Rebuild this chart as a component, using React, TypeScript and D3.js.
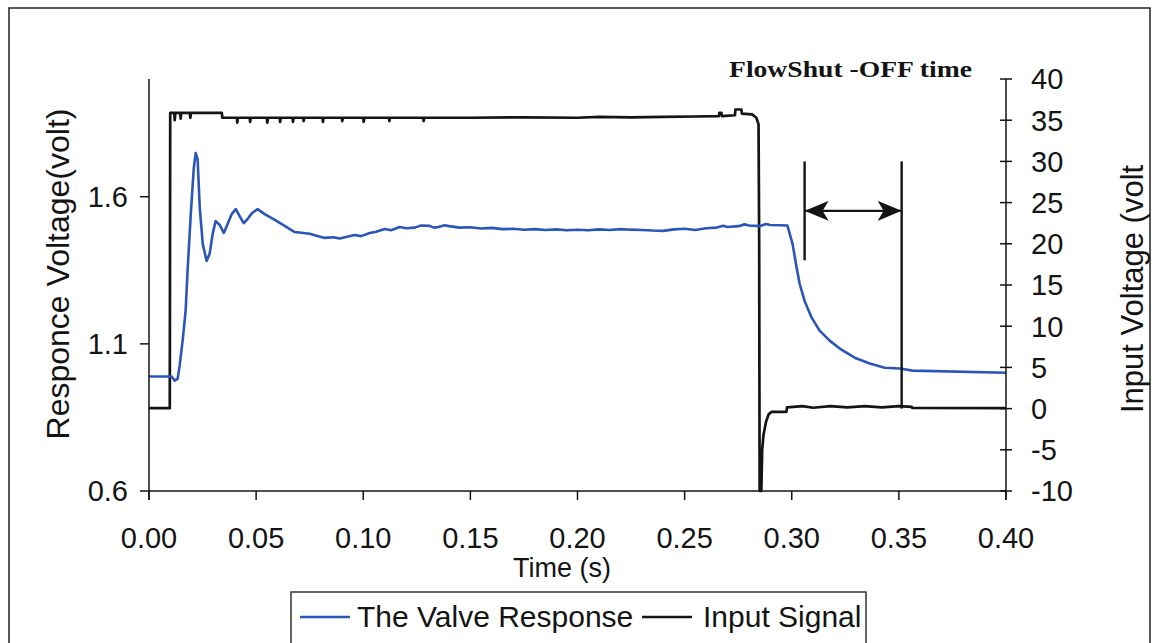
import React from "react";
import * as d3 from "d3";

// Valve step test: response voltage (left axis) and input signal (right axis)
const xTicks = [0, 0.05, 0.1, 0.15, 0.2, 0.25, 0.3, 0.35, 0.4];
const leftTicks = [0.6, 1.1, 1.6];
const rightTicks = [-10, -5, 0, 5, 10, 15, 20, 25, 30, 35, 40];

// [time (s), response voltage (V)]
const valveResponse: [number, number][] = [
  [0, 0.989], [0.0106, 0.989], [0.012, 0.975], [0.0134, 0.982], [0.0143, 1.026],
  [0.0157, 1.111], [0.0171, 1.213], [0.018, 1.348], [0.0195, 1.541], [0.0209, 1.697],
  [0.0218, 1.748], [0.0227, 1.727], [0.0237, 1.561], [0.0251, 1.439], [0.0269, 1.382],
  [0.0283, 1.406], [0.0297, 1.473], [0.0311, 1.517], [0.033, 1.504], [0.0349, 1.477],
  [0.0367, 1.507], [0.0386, 1.541], [0.0405, 1.558], [0.0423, 1.534], [0.0442, 1.51],
  [0.046, 1.524], [0.048, 1.544], [0.0507, 1.558], [0.054, 1.541], [0.0587, 1.521],
  [0.0633, 1.501], [0.068, 1.48], [0.075, 1.474], [0.079, 1.466], [0.082, 1.46],
  [0.086, 1.462], [0.089, 1.458], [0.092, 1.463], [0.096, 1.47], [0.099, 1.466],
  [0.103, 1.477], [0.106, 1.481], [0.11, 1.49], [0.113, 1.486], [0.117, 1.497],
  [0.12, 1.493], [0.124, 1.495], [0.127, 1.502], [0.131, 1.501], [0.133, 1.495],
  [0.135, 1.497], [0.138, 1.503], [0.14, 1.5], [0.145, 1.495], [0.15, 1.496],
  [0.155, 1.492], [0.16, 1.494], [0.165, 1.49], [0.17, 1.491], [0.175, 1.488],
  [0.18, 1.49], [0.185, 1.487], [0.19, 1.489], [0.195, 1.486], [0.2, 1.488],
  [0.205, 1.486], [0.21, 1.489], [0.215, 1.487], [0.22, 1.49], [0.225, 1.488],
  [0.23, 1.487], [0.235, 1.485], [0.24, 1.484], [0.245, 1.489], [0.25, 1.491],
  [0.255, 1.487], [0.26, 1.493], [0.265, 1.495], [0.268, 1.501], [0.27, 1.497],
  [0.275, 1.5], [0.278, 1.506], [0.28, 1.502], [0.285, 1.5], [0.288, 1.507],
  [0.29, 1.504], [0.295, 1.503], [0.298, 1.502],
  [0.3004, 1.439], [0.3023, 1.358], [0.3037, 1.304], [0.306, 1.246], [0.3093, 1.189],
  [0.313, 1.145], [0.3177, 1.111], [0.3224, 1.084], [0.3294, 1.053], [0.3364, 1.033],
  [0.3434, 1.019], [0.3504, 1.016], [0.3564, 1.009], [0.4, 1.002],
];

// [time (s), input voltage (V)]
const inputSignal: [number, number][] = [
  [0, 0.05], [0.0097, 0.05], [0.0099, 35.9], [0.0118, 35.9], [0.012, 35.0], [0.0123, 35.9],
  [0.0145, 35.9], [0.0148, 35.2], [0.015, 35.9], [0.019, 35.9], [0.0193, 35.3], [0.0196, 35.9],
  [0.034, 35.9], [0.0342, 35.3], [0.041, 35.3], [0.0412, 34.7], [0.0415, 35.3],
  [0.047, 35.3], [0.0472, 34.8], [0.0475, 35.3], [0.055, 35.3], [0.0552, 34.7], [0.0556, 35.3],
  [0.061, 35.3], [0.0612, 34.8], [0.0615, 35.3], [0.067, 35.3], [0.0672, 34.8], [0.0676, 35.3],
  [0.072, 35.3], [0.0722, 34.9], [0.0725, 35.3], [0.081, 35.3], [0.0812, 34.8], [0.0815, 35.3],
  [0.09, 35.3], [0.0902, 34.9], [0.0905, 35.3], [0.1, 35.3], [0.1002, 34.8], [0.1006, 35.3],
  [0.112, 35.3], [0.1122, 34.9], [0.1125, 35.3], [0.128, 35.3], [0.1282, 34.9], [0.1285, 35.3],
  [0.15, 35.3], [0.175, 35.35], [0.2, 35.3], [0.21, 35.4], [0.225, 35.35], [0.24, 35.4],
  [0.255, 35.45], [0.266, 35.5], [0.2662, 35.9], [0.2672, 35.9], [0.2674, 35.5],
  [0.2735, 35.6], [0.2737, 36.3], [0.2765, 36.3], [0.2767, 35.8], [0.2815, 35.7],
  [0.2835, 35.3], [0.2845, 34.5], [0.2848, 20], [0.285, -10], [0.2858, -10],
  [0.2862, -5], [0.2868, -3.2], [0.288, -1.6], [0.2892, -0.7], [0.2905, -0.4],
  [0.2975, -0.4], [0.2978, 0.15], [0.305, 0.3], [0.31, 0.1], [0.318, 0.3], [0.326, 0.15],
  [0.334, 0.3], [0.342, 0.15], [0.35, 0.3], [0.356, 0.2], [0.3562, 0.1], [0.4, 0.05],
];

// shut-off time markers, in (time, input voltage) units
const shutStart = 0.306;
const shutEnd = 0.3513;
const markerTop = 30;
const markerStartBottom = 18;
const markerEndBottom = 0;
const arrowLevel = 24;

const W = 1157;
const H = 643;
const plot = { left: 149, right: 1006, top: 79, bottom: 491 };

const FONT = "'Liberation Sans', Arial, sans-serif";

export default function App() {
  const x = d3.scaleLinear().domain([0, 0.4]).range([plot.left, plot.right]);
  const yL = d3.scaleLinear().domain([0.6, 2.0]).range([plot.bottom, plot.top]);
  const yR = d3.scaleLinear().domain([-10, 40]).range([plot.bottom, plot.top]);

  const responseLine = d3
    .line<[number, number]>()
    .x((d) => x(d[0]))
    .y((d) => yL(d[1]));
  const inputLine = d3
    .line<[number, number]>()
    .x((d) => x(d[0]))
    .y((d) => yR(d[1]));

  const blue = "#2b55b8";
  const ink = "#141414";

  return (
    <div style={{ position: "fixed", left: 0, top: 0 }}>
      <svg width={W} height={H} style={{ display: "block", background: "#fff" }}>
        <defs>
          <marker
            id="arrowHead"
            viewBox="0 0 24 20"
            refX="23"
            refY="10"
            markerWidth="24"
            markerHeight="20"
            markerUnits="userSpaceOnUse"
            orient="auto-start-reverse"
          >
            <path d="M24,10 L0,0 L6,10 L0,20 Z" fill={ink} />
          </marker>
        </defs>

        {/* outer frame */}
        <rect x={9} y={8} width={1141} height={680} fill="none" stroke="#222" strokeWidth={1.5} />

        {/* series */}
        <path d={inputLine(inputSignal) ?? ""} fill="none" stroke={ink} strokeWidth={2.7} strokeLinejoin="round" />
        <path d={responseLine(valveResponse) ?? ""} fill="none" stroke={blue} strokeWidth={2.6} strokeLinejoin="round" />

        {/* axes */}
        <g stroke={ink} strokeWidth={1.5}>
          <line x1={plot.left} x2={plot.left} y1={plot.top} y2={plot.bottom + 9} />
          <line x1={plot.right} x2={plot.right} y1={plot.top} y2={plot.bottom + 9} />
          <line x1={plot.left} x2={plot.right} y1={plot.bottom} y2={plot.bottom} />
          {xTicks.map((t) => (
            <line key={`xt${t}`} x1={x(t)} x2={x(t)} y1={plot.bottom} y2={plot.bottom + 9} />
          ))}
          {leftTicks.map((t) => (
            <line key={`lt${t}`} x1={plot.left - 9} x2={plot.left} y1={yL(t)} y2={yL(t)} />
          ))}
          {rightTicks.map((t) => (
            <line key={`rt${t}`} x1={plot.right - 6} x2={plot.right + 6} y1={yR(t)} y2={yR(t)} />
          ))}
        </g>

        <g fontFamily={FONT} fontSize={29} fill={ink}>
          {xTicks.map((t) => (
            <text key={`xl${t}`} x={x(t)} y={548} textAnchor="middle">
              {t.toFixed(2)}
            </text>
          ))}
          {leftTicks.map((t) => (
            <text key={`ll${t}`} x={128} y={yL(t)} dy="0.36em" textAnchor="end">
              {t.toFixed(1)}
            </text>
          ))}
          {rightTicks.map((t) => (
            <text key={`rl${t}`} x={1031} y={yR(t)} dy="0.36em" textAnchor="start">
              {t}
            </text>
          ))}
        </g>

        {/* axis titles */}
        <g fontFamily={FONT} fill={ink}>
          <text x={562} y={577} fontSize={27} textAnchor="middle">
            Time (s)
          </text>
          <text transform="translate(69,274) rotate(-90)" fontSize={32} textAnchor="middle">
            Responce Voltage(volt)
          </text>
          <text transform="translate(1143,413) rotate(-90)" fontSize={31} textAnchor="start">
            Input Voltage (volt
          </text>
        </g>

        {/* shut-off time annotation */}
        <g stroke={ink} strokeWidth={2.4}>
          <line x1={x(shutStart)} x2={x(shutStart)} y1={yR(markerTop)} y2={yR(markerStartBottom)} />
          <line x1={x(shutEnd)} x2={x(shutEnd)} y1={yR(markerTop)} y2={yR(markerEndBottom)} />
          <line
            x1={x(shutStart) + 1}
            x2={x(shutEnd) - 1}
            y1={yR(arrowLevel)}
            y2={yR(arrowLevel)}
            markerStart="url(#arrowHead)"
            markerEnd="url(#arrowHead)"
          />
        </g>
        <text
          x={729}
          y={77}
          fontFamily="'Liberation Serif', 'Times New Roman', serif"
          fontWeight="bold"
          fontSize={24}
          textLength={243}
          lengthAdjust="spacingAndGlyphs"
          fill={ink}
        >
          FlowShut -OFF time
        </text>

        {/* legend */}
        <rect x={291} y={592} width={575} height={70} fill="#fff" stroke="#333" strokeWidth={1.5} />
        <line x1={300} x2={350} y1={617} y2={617} stroke={blue} strokeWidth={2.4} />
        <text x={357} y={627} fontFamily={FONT} fontSize={30} fill={ink}>
          The Valve Response
        </text>
        <line x1={642} x2={692} y1={617} y2={617} stroke={ink} strokeWidth={2.4} />
        <text x={703} y={627} fontFamily={FONT} fontSize={30} fill={ink}>
          Input Signal
        </text>
      </svg>
    </div>
  );
}
